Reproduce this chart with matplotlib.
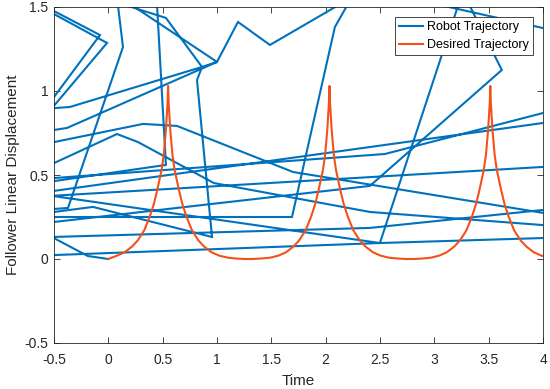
#!/usr/bin/env python3
# -*- coding: utf-8 -*-
"""
plot.py

Robot trajectory vs. desired trajectory (MATLAB-style figure).
Saves out.png (550x389 px).
"""
import matplotlib
matplotlib.use("Agg")
import matplotlib.pyplot as plt

# ───────────────────────────────────────────────────────────────────────
# Data
# ───────────────────────────────────────────────────────────────────────
# Robot trajectory: one polyline, vertices partly outside the axes limits
robot_t = [
    0.0, -0.19, -0.52, 2.407, 4.0, 4.06,
    4.06, 2.499, -0.52, 4.0, 4.06,
    4.06, -0.56,
    -0.56, 2.545, 4.0, 4.06,
    4.06, 2.407, 0.972, 0.273, 0.08, -0.56,
    -0.56, 0.319, 0.632, 1.699, 4.06,
    4.06, 2.72,
    3.293, 3.621, 2.407, -0.56,
    -0.56, -0.141, 0.954, 0.816, 0.862, 1.0, -0.38, -0.56,
    -0.56, -0.077, -0.56,
    -0.56, -0.012, -0.52, -0.353, 0.862, 0.53, -0.084,
    0.079, 0.135, -0.371, -0.56,
    -0.56, 0.53, 0.444,
    0.102, 1.0, 1.193, 1.487, 2.248,
    2.242, 2.085, 1.69, -0.56,
    -0.56, 2.499, 3.24,
]
robot_y = [
    0.0, 0.018, 0.131, 0.185, 0.292, 0.296,
    0.126, 0.095, 0.376, 0.548, 0.550,
    0.815, 0.400,
    0.479, 0.625, 0.869, 0.879,
    0.199, 0.280, 0.452, 0.696, 0.744, 0.553,
    0.688, 0.804, 0.792, 0.518, 0.268,
    1.366, 1.56,
    1.55, 1.125, 0.435, 0.216,
    0.275, 0.310, 0.131, 1.065, 1.143, 1.173, 0.780, 0.762,
    0.912, 1.333, 1.496,
    1.479, 1.286, 0.897, 0.905, 1.143, 1.435, 1.56,
    1.56, 1.262, 0.304, 0.295,
    0.458, 0.560, 1.56,
    1.56, 1.173, 1.411, 1.274, 1.56,
    1.56, 1.381, 0.250, 0.250,
    0.022, 0.095, 1.55,
]

# Desired trajectory: three sharp cusps
desired_t = [
    0.0, 0.08, 0.15, 0.22, 0.27, 0.33, 0.38, 0.42, 0.45, 0.47, 0.49, 0.51,
    0.53, 0.545, 0.55, 0.555, 0.57, 0.59, 0.61, 0.63, 0.65, 0.68, 0.72,
    0.77, 0.83, 0.88, 0.95, 1.02, 1.10, 1.17, 1.25, 1.33, 1.41,
    1.49, 1.565, 1.635, 1.705, 1.755, 1.815, 1.865, 1.905, 1.935, 1.955,
    1.975, 1.995, 2.015, 2.03, 2.035, 2.04, 2.055, 2.075, 2.095, 2.115,
    2.135, 2.165, 2.205, 2.255, 2.315, 2.365, 2.435, 2.505, 2.58, 2.66,
    2.74, 2.82, 2.89, 2.97, 3.045, 3.115, 3.185, 3.235, 3.295, 3.345,
    3.385, 3.415, 3.435, 3.455, 3.475, 3.495, 3.51, 3.515, 3.52, 3.535,
    3.555, 3.575, 3.595, 3.615, 3.645, 3.685, 3.735, 3.795, 3.845, 3.915,
    3.985, 4.0,
]
desired_y = [
    0.0, 0.02, 0.04, 0.075, 0.11, 0.17, 0.25, 0.33, 0.41, 0.47, 0.53, 0.62,
    0.77, 0.93, 1.03, 0.93, 0.77, 0.62, 0.53, 0.47, 0.41, 0.33, 0.25,
    0.17, 0.11, 0.075, 0.04, 0.02, 0.008, 0.003, 0.0, 0.0, 0.003,
    0.008, 0.02, 0.04, 0.075, 0.11, 0.17, 0.25, 0.33, 0.41, 0.47,
    0.53, 0.62, 0.77, 0.93, 1.03, 0.93, 0.77, 0.62, 0.53, 0.47,
    0.41, 0.33, 0.25, 0.17, 0.11, 0.075, 0.04, 0.02, 0.008, 0.003,
    0.0, 0.0, 0.003, 0.008, 0.02, 0.04, 0.075, 0.11, 0.17, 0.25,
    0.33, 0.41, 0.47, 0.53, 0.62, 0.77, 0.93, 1.03, 0.93, 0.77,
    0.62, 0.53, 0.47, 0.41, 0.33, 0.25, 0.17, 0.11, 0.075, 0.04,
    0.02, 0.018,
]

x_ticks = [-0.5, 0, 0.5, 1, 1.5, 2, 2.5, 3, 3.5, 4]
x_labels = ["-0.5", "0", "0.5", "1", "1.5", "2", "2.5", "3", "3.5", "4"]
y_ticks = [-0.5, 0, 0.5, 1, 1.5]
y_labels = ["-0.5", "0", "0.5", "1", "1.5"]

# ───────────────────────────────────────────────────────────────────────
# Style
# ───────────────────────────────────────────────────────────────────────
BLUE = "#0072BD"
ORANGE = "#F4511A"
AXIS_COL = "#262626"

plt.rcParams["font.family"] = ["Liberation Sans", "DejaVu Sans"]

fig = plt.figure(figsize=(5.5, 3.89), dpi=100)
ax = fig.add_axes([54 / 550, 1 - 343 / 389, 489 / 550, 336 / 389])

ax.plot(robot_t, robot_y, color=BLUE, lw=1.5, label="Robot Trajectory",
        solid_joinstyle="miter")
ax.plot(desired_t, desired_y, color=ORANGE, lw=1.5, label="Desired Trajectory")

ax.set_xlim(-0.5, 4)
ax.set_ylim(-0.5, 1.5)
ax.set_xticks(x_ticks)
ax.set_xticklabels(x_labels)
ax.set_yticks(y_ticks)
ax.set_yticklabels(y_labels)

ax.tick_params(direction="in", length=4, width=0.6, color=AXIS_COL,
               labelcolor=AXIS_COL, labelsize=10, top=True, right=True)
ax.tick_params(axis="x", pad=7)
ax.tick_params(axis="y", pad=4)
for sp in ax.spines.values():
    sp.set_color(AXIS_COL)
    sp.set_linewidth(0.6)

ax.set_xlabel("Time", fontsize=11, color=AXIS_COL, labelpad=5)
ax.set_ylabel("Follower Linear Displacement", fontsize=11, color=AXIS_COL,
              labelpad=3)

leg = ax.legend(loc="upper right", fontsize=9, fancybox=False,
                framealpha=1, edgecolor=AXIS_COL, borderaxespad=0.8,
                borderpad=0.35, labelspacing=0.45, handlelength=1.9,
                handletextpad=0.3)
leg.get_frame().set_linewidth(0.6)

fig.savefig("out.png", dpi=100)
